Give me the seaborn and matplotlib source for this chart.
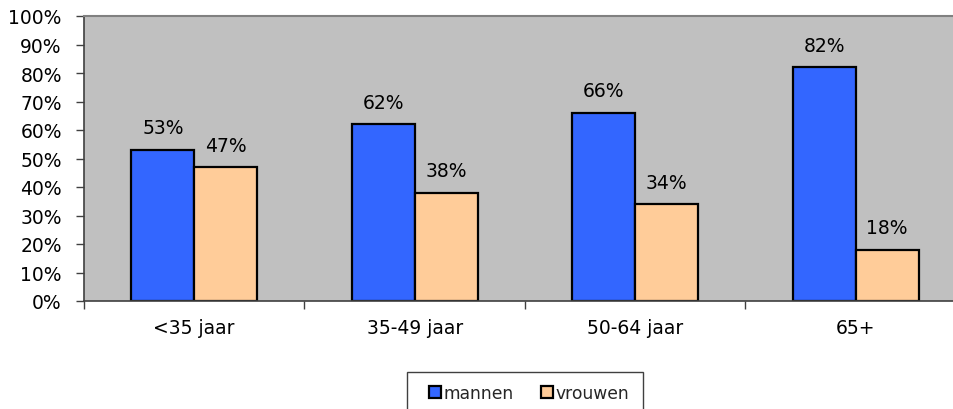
import matplotlib
matplotlib.use("Agg")
import matplotlib.pyplot as plt
from matplotlib.patches import Patch, Rectangle
from matplotlib.ticker import FixedLocator, PercentFormatter
import pandas as pd
import seaborn as sns

# Age groups and share per gender (percent)
categories = ["<35 jaar", "35-49 jaar", "50-64 jaar", "65+"]
mannen = [53, 62, 66, 82]
vrouwen = [47, 38, 34, 18]
series_names = ["mannen", "vrouwen"]
y_ticks = list(range(0, 101, 10))

df = pd.DataFrame({
    "leeftijd": categories * 2,
    "geslacht": [series_names[0]] * len(categories) + [series_names[1]] * len(categories),
    "aandeel": mannen + vrouwen,
})

colors = {"mannen": "#3366FF", "vrouwen": "#FFCC99"}

sns.set_theme(style="white")
plt.rcParams["font.family"] = ["DejaVu Sans"]

W, H = 954, 410
fig = plt.figure(figsize=(W / 100, H / 100), dpi=100)
ax = fig.add_axes([84 / W, 108 / H, 882 / W, 285 / H])
ax.set_facecolor("#C0C0C0")

sns.barplot(
    data=df, x="leeftijd", y="aandeel", hue="geslacht",
    order=categories, hue_order=series_names, palette=colors,
    width=0.57, edgecolor="black", linewidth=1.6, saturation=1,
    ax=ax, legend=False,
)

for container in ax.containers:
    ax.bar_label(container, labels=[f"{int(v)}%" for v in container.datavalues],
                 padding=9, fontsize=13.5, color="black")

ax.set_xlim(-0.5, len(categories) - 0.5)
ax.set_ylim(0, 100)
ax.set_yticks(y_ticks)
ax.yaxis.set_major_formatter(PercentFormatter(decimals=0))
ax.set_xlabel("")
ax.set_ylabel("")

# category separators as minor ticks, labels on major ticks without marks
ax.xaxis.set_minor_locator(FixedLocator([i - 0.5 for i in range(len(categories) + 1)]))
ax.tick_params(axis="x", which="major", length=0, pad=12, labelsize=13.5, colors="black")
ax.tick_params(axis="x", which="minor", bottom=True, length=6, width=1, color="#404040")
ax.tick_params(axis="y", which="major", left=True, length=6, width=1, color="#404040",
               pad=10, labelsize=13.5, labelcolor="black")
ax.grid(False)

for side in ["left", "bottom"]:
    ax.spines[side].set_color("#404040")
    ax.spines[side].set_linewidth(1.2)
ax.spines["top"].set_color("#808080")
ax.spines["top"].set_linewidth(1.5)
ax.spines["right"].set_visible(False)

# legend frame
frame = Rectangle((407 / W, -5 / H), (643 - 407) / W, (H - 373 + 5) / H,
                  transform=fig.transFigure, facecolor="white",
                  edgecolor="#404040", linewidth=1.0, zorder=1)
fig.patches.append(frame)

handles = [Patch(facecolor=colors[n], edgecolor="black", linewidth=1.6, label=n) for n in series_names]
leg = fig.legend(
    handles=handles, loc="center left", bbox_to_anchor=(429 / W, 1 - 394 / H),
    ncol=2, frameon=False, fontsize=12.3,
    handlelength=0.7, handleheight=0.7, handletextpad=0.15, columnspacing=1.6,
    borderpad=0, borderaxespad=0,
)
leg.set_zorder(2)

fig.savefig("out.png", dpi=100)
